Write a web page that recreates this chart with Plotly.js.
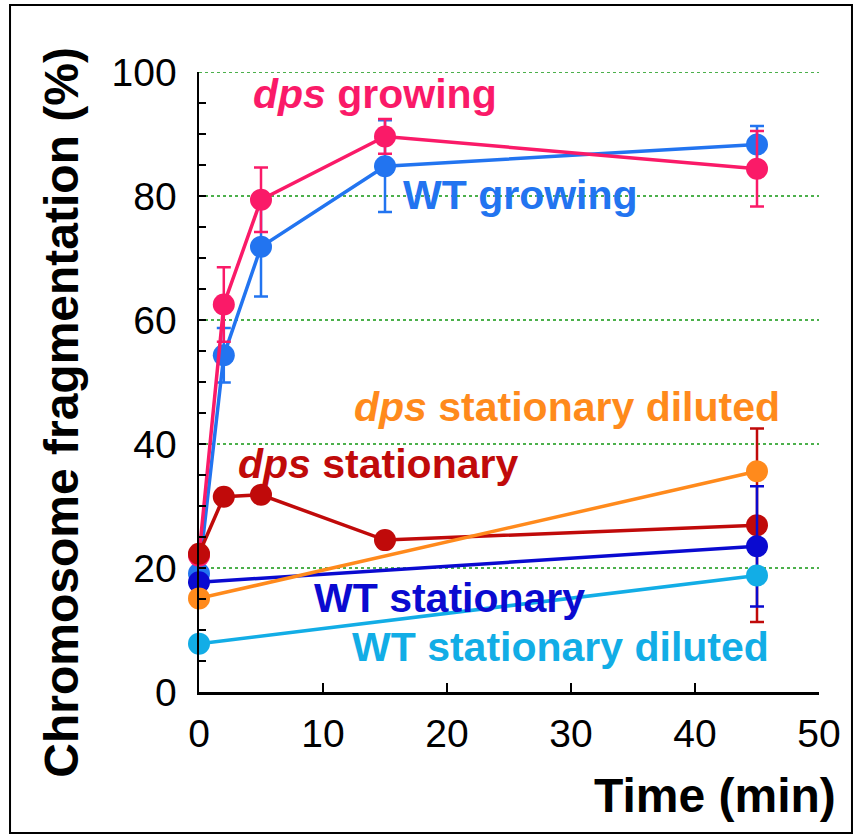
<!DOCTYPE html>
<html>
<head>
<meta charset="utf-8">
<script src="https://cdn.plot.ly/plotly-3.0.1.min.js"></script>
<style>html,body{margin:0;padding:0;background:#fff;}</style>
</head>
<body>
<div id="chart" style="width:862px;height:838px;"></div>
<script>
// Time points (min)
const timeFull = [0, 2, 5, 15, 45];
const timeShort = [0, 45];

// Series values (% chromosome fragmentation)
const dpsGrowing = [22, 62.5, 79.4, 89.6, 84.4];
const dpsGrowingErr = [0, 6, 5.2, 2.8, 6.1];
const wtGrowing = [19.1, 54.3, 71.8, 84.8, 88.3];
const wtGrowingErr = [0, 4.4, 8, 7.4, 3];
const dpsStationary = [22.3, 31.5, 31.8, 24.5, 26.9];
const dpsStationaryErr = [0, 0, 0, 0, 15.6];
const wtStationary = [17.7, 23.5];
const wtStationaryErr = [0, 9.7];
const wtStationaryDiluted = [7.8, 18.8];
const wtStationaryDilutedErr = [0, 0];
const dpsStationaryDiluted = [15.1, 35.6];
const dpsStationaryDilutedErr = [0, 0];

// Axis ticks
const xTickVals = [0, 10, 20, 30, 40, 50];
const yTickVals = [0, 5, 10, 15, 20, 25, 30, 35, 40, 45, 50, 55, 60, 65, 70, 75, 80, 85, 90, 95, 100];
const yTickText = ['0', '', '', '', '20', '', '', '', '40', '', '', '', '60', '', '', '', '80', '', '', '', '100'];
const yGridVals = [20, 40, 60, 80, 100];

// Labels
const labelTexts = ['<i>dps</i> growing', 'WT growing', '<i>dps</i> stationary diluted',
  '<i>dps</i> stationary', 'WT stationary', 'WT stationary diluted'];
const labelX = [4.2, 16.3, 12.3, 3.0, 9.1, 12.2];
const labelY = [96.5, 80.2, 46.0, 36.8, 15.1, 7.3];

const colors = {
  dpsGrowing: '#fa1a68',
  wtGrowing: '#2274f0',
  dpsStationary: '#c00a0a',
  wtStationary: '#0a0ad0',
  wtStationaryDiluted: '#12ade6',
  dpsStationaryDiluted: '#ff8a1c'
};
const labelColors = [colors.dpsGrowing, colors.wtGrowing, colors.dpsStationaryDiluted,
  colors.dpsStationary, colors.wtStationary, colors.wtStationaryDiluted];

function series(x, y, err, color) {
  return {
    x: x, y: y, type: 'scatter', mode: 'lines+markers', cliponaxis: false,
    line: {color: color, width: 3.5},
    marker: {color: color, size: 22},
    error_y: {type: 'data', array: err, visible: true, color: color, thickness: 2.5, width: 7},
    showlegend: false, hoverinfo: 'x+y'
  };
}

const data = [
  series(timeFull, wtGrowing, wtGrowingErr, colors.wtGrowing),
  series(timeFull, dpsGrowing, dpsGrowingErr, colors.dpsGrowing),
  series(timeFull, dpsStationary, dpsStationaryErr, colors.dpsStationary),
  series(timeShort, wtStationary, wtStationaryErr, colors.wtStationary),
  series(timeShort, wtStationaryDiluted, wtStationaryDilutedErr, colors.wtStationaryDiluted),
  series(timeShort, dpsStationaryDiluted, dpsStationaryDilutedErr, colors.dpsStationaryDiluted)
];

const font = 'Liberation Sans, Arial, Helvetica, sans-serif';

const annotations = labelTexts.map((t, i) => ({
  x: labelX[i], y: labelY[i], xref: 'x', yref: 'y', text: t, showarrow: false,
  xanchor: 'left', yanchor: 'middle',
  font: {family: font, size: 41, color: labelColors[i], weight: 'bold'}
}));
annotations.push({
  x: -0.221, y: 0.452, xref: 'paper', yref: 'paper', text: 'Chromosome fragmentation (%)',
  textangle: -90, showarrow: false, xanchor: 'center', yanchor: 'middle',
  font: {family: font, size: 48, color: '#000', weight: 'bold'}
});
annotations.push({
  x: 1.0306, y: -0.167, xref: 'paper', yref: 'paper', text: 'Time (min)',
  showarrow: false, xanchor: 'right', yanchor: 'middle',
  font: {family: font, size: 48, color: '#000', weight: 'bold'}
});

const shapes = yGridVals.map(v => ({
  type: 'line', xref: 'x', yref: 'y', x0: 0, x1: 50, y0: v, y1: v,
  line: {color: '#4cb04c', width: 2, dash: 'dot'}, layer: 'below'
}));
shapes.push({
  type: 'rect', xref: 'paper', yref: 'paper', x0: -0.3048, x1: 1.0532, y0: -0.2274, y1: 1.108,
  line: {color: '#000', width: 2}, fillcolor: 'rgba(0,0,0,0)', layer: 'below'
});

const layout = {
  width: 862, height: 838,
  margin: {l: 199, r: 43, t: 72, b: 146},
  paper_bgcolor: '#fff', plot_bgcolor: '#fff',
  font: {family: font, color: '#000'},
  xaxis: {
    range: [0, 50], tickvals: xTickVals, ticks: 'inside', ticklen: 9, tickwidth: 2.5,
    tickcolor: '#000', showline: true, linecolor: '#000', linewidth: 2.5, showgrid: false,
    zeroline: false, tickfont: {family: font, size: 39, color: '#000'}, ticklabelstandoff: 6,
    fixedrange: true
  },
  yaxis: {
    range: [0, 100], tickvals: yTickVals, ticktext: yTickText, ticks: 'inside', ticklen: 7, tickwidth: 2.5,
    tickcolor: '#000', showline: true, linecolor: '#000', linewidth: 2.5,
    showgrid: false, zeroline: false,
    tickfont: {family: font, size: 39, color: '#000'}, ticklabelstandoff: 12,
    fixedrange: true
  },
  annotations: annotations,
  shapes: shapes
};

Plotly.newPlot('chart', data, layout, {displayModeBar: false, staticPlot: true});
</script>
</body>
</html>
